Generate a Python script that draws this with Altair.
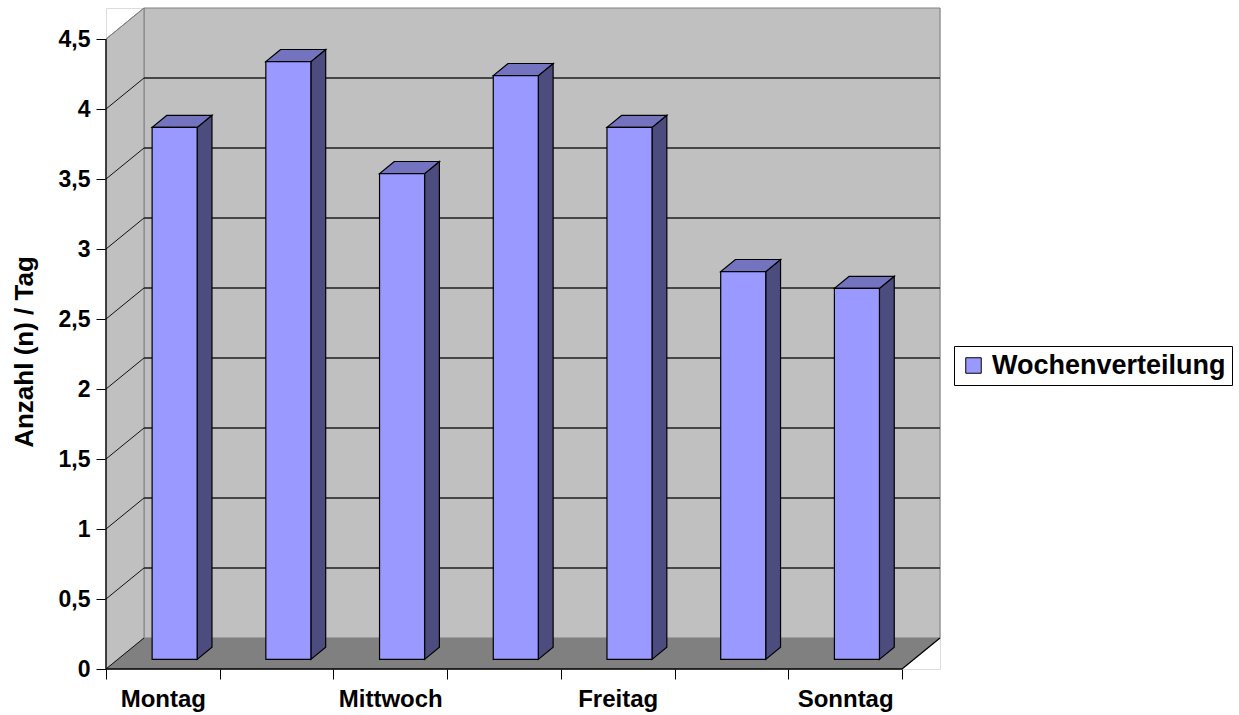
import json
import altair as alt
import pandas as pd

# ---- data ----
days = ["Montag", "Dienstag", "Mittwoch", "Donnerstag", "Freitag", "Samstag", "Sonntag"]
values = [3.8, 4.27, 3.47, 4.17, 3.8, 2.77, 2.65]
y_ticks = [0, 0.5, 1, 1.5, 2, 2.5, 3, 3.5, 4, 4.5]
series_name = "Wochenverteilung"
y_title = "Anzahl (n) / Tag"

# ---- 3D geometry (in data units) ----
N = len(days)
YTOP = y_ticks[-1]
DX = 0.3342      # depth offset along x (category units)
DY = 0.2216      # depth offset along y (value units)
F0, F1 = 0.31, 0.70   # bar front / back depth fractions
HW = 0.198            # half bar width
XMAX = N + DX
YMAX = YTOP + DY
W, H = 834, 661
FONT = "Liberation Sans"

xscale = alt.Scale(domain=[0, XMAX], nice=False, zero=False)
yscale = alt.Scale(domain=[0, YMAX], nice=False, zero=False)

label_expr = (f"datum.value < {N} && datum.value % 2 == 0 ? "
              f"{json.dumps(days)}[datum.value] : ''")

xaxis = alt.Axis(values=list(range(N + 1)), labelExpr=label_expr, tickSize=10,
                 tickColor="black", tickWidth=1, domain=False, grid=False,
                 labelFontSize=24, labelFontWeight="bold", labelFont=FONT,
                 labelColor="black", labelPadding=8, labelOffset=W / XMAX * 0.5,
                 labelFlush=False, labelOverlap=False, labelBound=False, title=None)
yaxis = alt.Axis(values=y_ticks, labelExpr="replace(toString(datum.value), '.', ',')",
                 tickSize=10, tickColor="black", tickWidth=1, domain=False, grid=False,
                 labelFontSize=23, labelFontWeight="bold", labelFont=FONT,
                 labelColor="black", labelPadding=6, labelFlush=False,
                 labelOverlap=False, labelBound=False,
                 title=y_title, titleFontSize=26, titleFontWeight="bold", titleFont=FONT,
                 titleColor="black", titleX=-74, titleY=343.5, titleBaseline="alphabetic",
                 titleAngle=270, titleAlign="center")


def X(f):
    return alt.X(f"{f}:Q", scale=xscale, axis=xaxis, stack=None)


def Y(f):
    return alt.Y(f"{f}:Q", scale=yscale, axis=yaxis, stack=None)


# walls & floor
back = pd.DataFrame({"x": [DX], "x2": [N + DX], "y": [DY], "y2": [YTOP + DY]})
left = pd.DataFrame({"x": [0, DX], "y": [0, DY], "y2": [YTOP, YTOP + DY]})
floor = pd.DataFrame({"y": [0, DY], "x": [0, DX], "x2": [N, N + DX]})

grid_back = pd.DataFrame({"x": DX, "x2": N + DX, "y": [v + DY for v in y_ticks[1:-1]]})
diag = pd.DataFrame({"x": 0, "x2": DX, "y": y_ticks[:-1],
                     "y2": [v + DY for v in y_ticks[:-1]]})
diag_top = pd.DataFrame({"x": [0], "x2": [DX], "y": [YTOP], "y2": [YTOP + DY]})
front_lines = pd.DataFrame({"x": [0, 0, N], "x2": [0, N, N + DX],
                            "y": [0, 0, 0], "y2": [YTOP, 0, DY]})

# bars
front_rows, side_rows, top_rows = [], [], []
for i, (d, v) in enumerate(zip(days, values)):
    c = i + 0.5
    front_rows.append({"day": d, "series": series_name,
                       "x": c - HW + F0 * DX, "x2": c + HW + F0 * DX,
                       "y": F0 * DY, "y2": v + F0 * DY})
    for f in (F0, F1):
        side_rows.append({"day": d, "x": c + HW + f * DX, "y": f * DY, "y2": v + f * DY})
        top_rows.append({"day": d, "y": v + f * DY,
                         "x": c - HW + f * DX, "x2": c + HW + f * DX})
front = pd.DataFrame(front_rows)
side = pd.DataFrame(side_rows)
top = pd.DataFrame(top_rows)

layers = [
    alt.Chart(back).mark_rect(fill="#C0C0C0", stroke="#808080", strokeWidth=1)
       .encode(x=X("x"), x2="x2", y=Y("y"), y2="y2"),
    alt.Chart(left).mark_area(fill="#C0C0C0", stroke="#808080", strokeWidth=1,
                              orient="vertical")
       .encode(x=X("x"), y=Y("y"), y2="y2"),
    alt.Chart(floor).mark_area(fill="#808080", orient="horizontal")
       .encode(y=Y("y"), x=X("x"), x2="x2"),
    alt.Chart(grid_back).mark_rule(color="#1e1e1e", strokeWidth=1.3)
       .encode(x=X("x"), x2="x2", y=Y("y")),
    alt.Chart(diag).mark_rule(color="#111111", strokeWidth=1)
       .encode(x=X("x"), x2="x2", y=Y("y"), y2="y2"),
    alt.Chart(diag_top).mark_rule(color="#808080", strokeWidth=1)
       .encode(x=X("x"), x2="x2", y=Y("y"), y2="y2"),
    alt.Chart(front_lines).mark_rule(color="black", strokeWidth=1.3)
       .encode(x=X("x"), x2="x2", y=Y("y"), y2="y2"),
    alt.Chart(side).mark_area(fill="#4C4C7E", stroke="black", strokeWidth=1.2,
                              orient="vertical")
       .encode(x=X("x"), y=Y("y"), y2="y2", detail="day:N"),
    alt.Chart(top).mark_area(fill="#7373BF", stroke="black", strokeWidth=1.2,
                             orient="horizontal")
       .encode(y=Y("y"), x=X("x"), x2="x2", detail="day:N"),
    alt.Chart(front).mark_rect(stroke="black", strokeWidth=1.2)
       .encode(x=X("x"), x2="x2", y=Y("y"), y2="y2",
               color=alt.Color("series:N", scale=alt.Scale(range=["#9999FF"]),
                               legend=alt.Legend(orient="none", legendX=848, legendY=338,
                                                 title=None, symbolType="square",
                                                 symbolSize=240, symbolStrokeColor="black",
                                                 symbolStrokeWidth=1, symbolOffset=0,
                                                 labelFontSize=27, labelFontWeight="bold",
                                                 labelFont=FONT, labelColor="black",
                                                 labelOffset=5, labelLimit=400, padding=6,
                                                 strokeColor="black", fillColor="white"))),
]

chart = alt.layer(*layers).properties(
    width=W, height=H,
    padding={"left": 106, "top": 8, "right": 299, "bottom": 46},
    autosize=alt.AutoSizeParams(type="none"),
    background="white",
).configure_view(stroke=None).configure(font=FONT)

chart.save("out.html", embed_options={"renderer": "svg", "actions": False})
